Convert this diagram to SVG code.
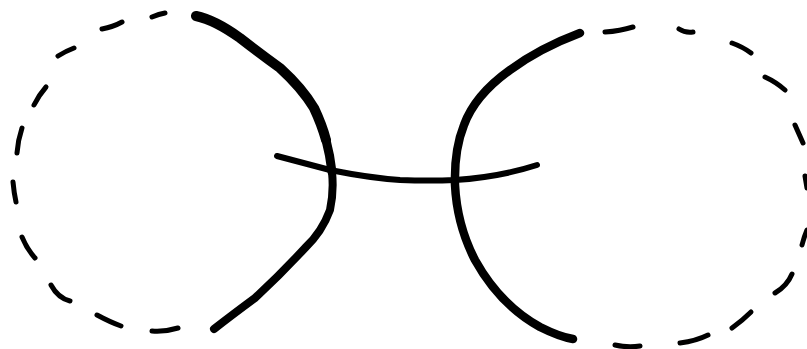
<svg xmlns="http://www.w3.org/2000/svg" width="807" height="349" viewBox="0 0 807 349">
<style>
.dash{fill:none;stroke:#000;stroke-width:5;stroke-linecap:round}
.arc{fill:none;stroke:#000;stroke-linecap:round;stroke-linejoin:round}
</style>
<rect width="807" height="349" fill="#fff"/>
<g id="left-ellipse">
<path class="dash" d="M152,17 Q159,14 165,13"/>
<path class="dash" d="M102,29 Q113,27 122,22"/>
<path class="dash" d="M58,56 Q66,51 74,48"/>
<path class="dash" d="M34,105 Q39,95 46,87"/>
<path class="dash" d="M17,153 Q18,140 22,128"/>
<path class="dash" d="M13,182 Q14,193 16,202"/>
<path class="dash" d="M22,237 Q27,249 35,258"/>
<path class="dash" d="M51,285 Q58,298 70,301"/>
<path class="dash" d="M97,315 Q110,322 121,326"/>
<path class="dash" d="M152,331 Q165,332 178,328"/>
</g>
<g id="right-ellipse">
<path class="dash" d="M605,32 Q620,31 633,27"/>
<path class="dash" d="M679,29 Q685,33 693,32"/>
<path class="dash" d="M732,43 Q743,47 751,53"/>
<path class="dash" d="M765,77 Q776,82 785,90"/>
<path class="dash" d="M795,125 Q799,134 803,143"/>
<path class="dash" d="M805,176 Q806,182 807,188"/>
<path class="dash" d="M802,245 Q804,237 807,230"/>
<path class="dash" d="M775,293 Q787,286 792,274"/>
<path class="dash" d="M732,328 Q743,320 751,312"/>
<path class="dash" d="M680,343 Q696,341 708,335"/>
<path class="dash" d="M615,345 Q628,348 640,346"/>
</g>
<g id="left-arc">
<path class="arc" stroke-width="10" d="M196,16 Q215,20 240,38 Q262,55 280,68 Q302,88 314,108 Q322,125 326,140"/>
<path class="arc" stroke-width="9" d="M326,140 Q330,155 332,172"/>
<path class="arc" stroke-width="8" d="M332,172 Q334,192 330,210 Q322,232 305,248 Q280,275 255,298 Q232,315 214,329"/>
</g>
<g id="right-arc">
<path class="arc" stroke-width="8.5" d="M580,33 Q540,48 510,70 Q475,95 464,125 Q454,150 455,185 Q457,225 475,260 Q500,305 540,327 Q560,337 573,339"/>
</g>
<g id="connectors">
<path class="arc" stroke-width="6" d="M277,156 Q300,162 330,170 Q370,178 400,180 Q430,181 455,180 Q500,177 537,165"/>
</g>
</svg>
